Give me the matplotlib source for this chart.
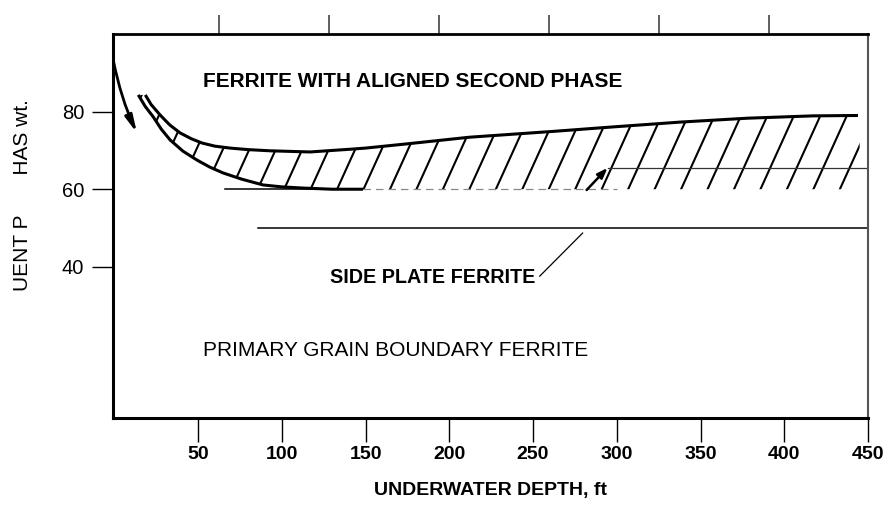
import numpy as np
import matplotlib
matplotlib.use("Agg")
from matplotlib import pyplot as plt
from matplotlib.patches import Polygon

plt.rcParams['font.family'] = ['Liberation Sans', 'DejaVu Sans']

# depth axis (ft) and phase content (wt.%)
depth_ticks = [50, 100, 150, 200, 250, 300, 350, 400, 450]
phase_ticks = [40, 60, 80]
top_ticks_m = [20, 40, 60, 80, 100, 120]
depth_offset_ft = 3

# upper edge of the aligned-second-phase band
upper_depth = [18.5, 22, 27.4, 33, 39.3, 46, 52.4, 60, 69.1, 80, 93, 116.8, 140.7, 150, 175, 212, 262, 296, 338, 378, 417, 444]
upper_pct = [84.3, 81.8, 79.1, 76.6, 74.5, 73.0, 71.9, 71.1, 70.6, 70.2, 69.9, 69.6, 70.3, 70.6, 71.7, 73.4, 74.9, 76.0, 77.3, 78.3, 78.9, 79.0]

# lower edge of the band, then flat along the floor
lower_depth = [14.3, 18.5, 23.3, 28, 33.3, 41, 49.4, 57, 64.9, 76, 88.8, 100, 112.7, 130, 148.5]
lower_pct = [84.3, 81.3, 78.6, 75.5, 72.7, 69.8, 67.5, 65.7, 64.2, 62.6, 61.1, 60.6, 60.3, 60.0, 60.0]
band_floor = 60
band_end = 445

# boundary lines
line60_start, line60_end = 66, 148.5
line60_faint_end = 300
side_plate_level, side_plate_start = 50, 86
upper_limit_level, upper_limit_start = 65.5, 295

fig = plt.figure(figsize=(8.87, 5.15), dpi=100)
ax = fig.add_axes([0.127, 0.188, 0.8516, 0.746])
ax.set_xlim(-1, 450)
ax.set_ylim(1, 100)

# hatched band outline (used only as clip path)
band_x = upper_depth + [band_end, band_end] + lower_depth[::-1]
band_y = upper_pct + [upper_pct[-1], band_floor] + lower_pct[::-1]
band = Polygon(np.column_stack([band_x, band_y]), closed=True, facecolor='none', edgecolor='none')
ax.add_patch(band)

slope = 0.95
step = 15.8
for c in np.arange(6.6 - 2 * step, band_end + step, step):
    xs = np.array([c - 40, c + 40])
    hl, = ax.plot(xs, band_floor + slope * (xs - c), color='black', lw=1.5)
    hl.set_clip_path(band)

ax.plot(upper_depth, upper_pct, color='black', lw=2.2, solid_capstyle='butt')
ax.plot(lower_depth, lower_pct, color='black', lw=2.2, solid_capstyle='butt')

ax.plot([line60_start, line60_end], [band_floor, band_floor], color='black', lw=1.1)
ax.plot([line60_end, line60_faint_end], [band_floor, band_floor], color='#888888', lw=0.9, ls=(0, (6, 4)))
ax.plot([side_plate_start, 450], [side_plate_level, side_plate_level], color='black', lw=1.1)
ax.plot([upper_limit_start, 450], [upper_limit_level, upper_limit_level], color='#333333', lw=0.9)

# arrows
ax.annotate('', xy=(294.5, 65.5), xytext=(282, 59.8),
            arrowprops=dict(arrowstyle='-|>,head_length=0.6,head_width=0.22', lw=1.8,
                            color='black', shrinkA=0, shrinkB=0))
ax.annotate('', xy=(13.5, 74.5), xytext=(-0.5, 93),
            arrowprops=dict(arrowstyle='-|>,head_length=1.0,head_width=0.22', lw=2.0,
                            color='black', shrinkA=0, shrinkB=0,
                            connectionstyle='arc3,rad=0.06'))
ax.plot([254, 279.6], [37.6, 48.7], color='black', lw=0.9)

# region labels
ax.text(53, 87.7, 'FERRITE WITH ALIGNED SECOND PHASE', fontsize=15, fontweight='bold', va='center')
ax.text(128.7, 37.3, 'SIDE PLATE FERRITE', fontsize=14.2, fontweight='bold', va='center')
ax.text(53, 18.5, 'PRIMARY GRAIN BOUNDARY FERRITE', fontsize=15, va='center')

# axes styling
for side, lw in [('left', 2.2), ('bottom', 2.2), ('top', 2.0)]:
    ax.spines[side].set_linewidth(lw)
ax.spines['right'].set_linewidth(1.5)
ax.spines['right'].set_color('#555555')

ax.set_xticks(depth_ticks)
ax.set_yticks(phase_ticks)
ax.tick_params(axis='x', direction='out', length=17, width=1, pad=3, labelsize=14)
ax.tick_params(axis='y', direction='out', length=15, width=1, pad=5.5, labelsize=14.5)
for lbl in ax.get_xticklabels():
    lbl.set_fontweight('bold')

secax = ax.secondary_xaxis('top', functions=(lambda ft: (ft + depth_offset_ft) * 0.3048,
                                              lambda m: m / 0.3048 - depth_offset_ft))
secax.set_xticks(top_ticks_m)
secax.set_xticklabels([])
secax.tick_params(axis='x', direction='out', length=14, width=1.2, color='#444444')
secax.spines['top'].set_visible(False)

ax.set_xlabel('UNDERWATER DEPTH, ft', fontsize=14, fontweight='bold', labelpad=14)
fig.text(23 / 887, 1 - 195 / 515, 'UENT P       HAS wt.', rotation=90, fontsize=15,
         ha='center', va='center')

fig.savefig('out.png', dpi=100)
